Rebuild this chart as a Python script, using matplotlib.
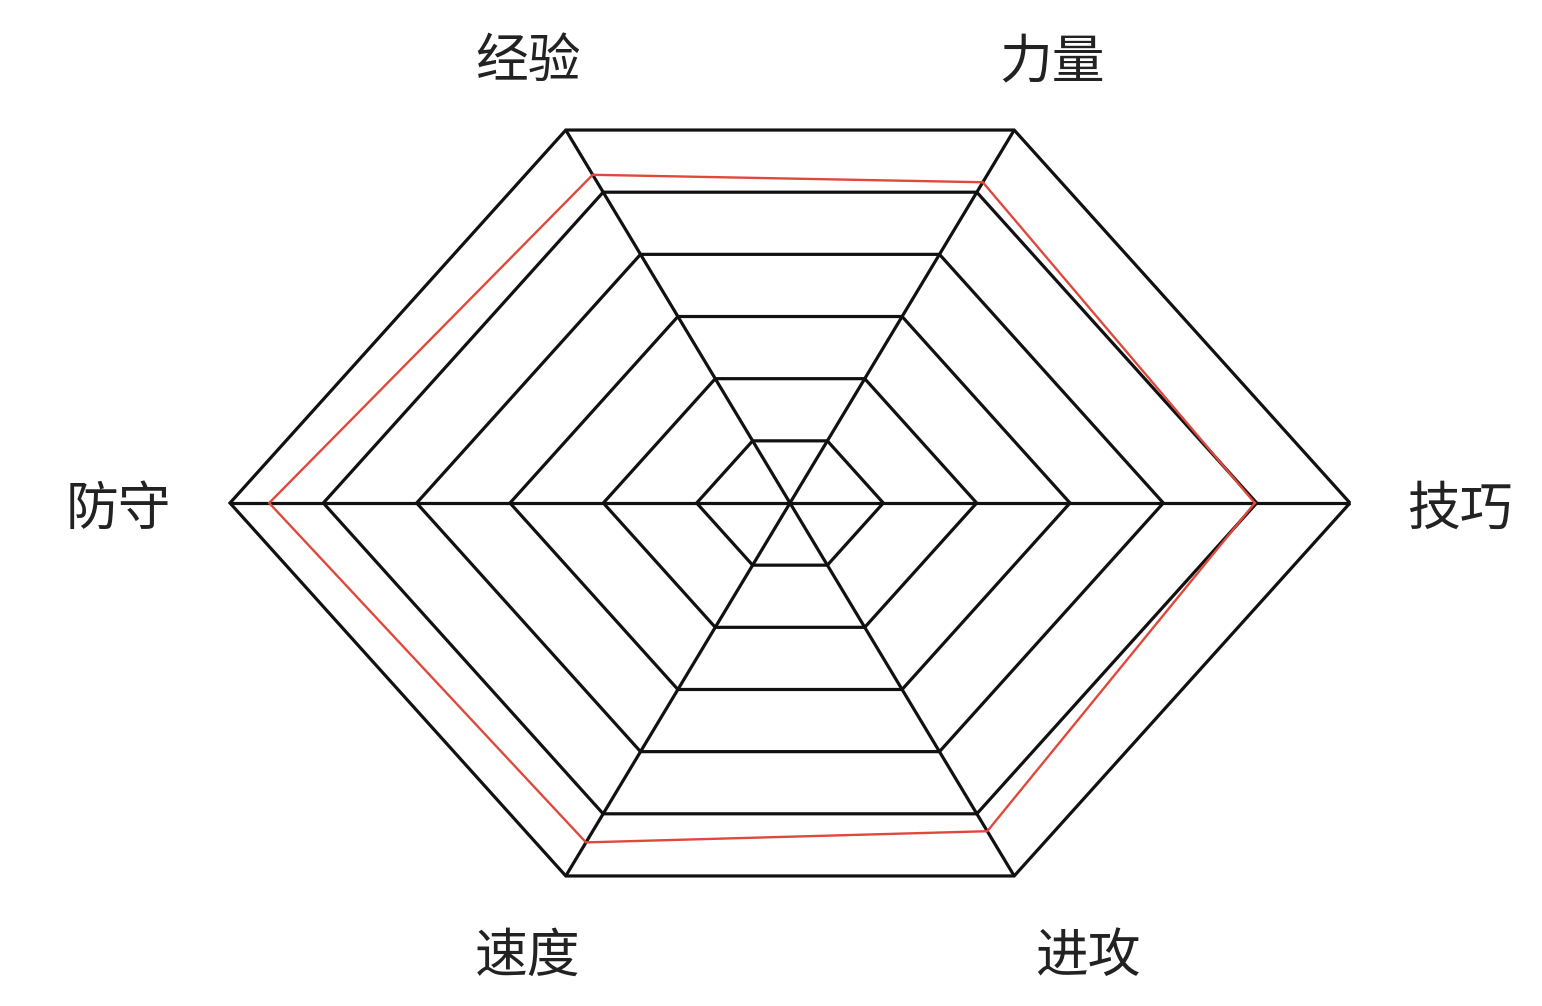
import numpy as np
import matplotlib
matplotlib.use("Agg")
import matplotlib.pyplot as plt
from matplotlib import transforms

plt.rcParams['font.family'] = ['Noto Sans CJK SC', 'DejaVu Sans']

# Data
categories = ['技巧', '力量', '经验', '防守', '速度', '进攻']
values = [83, 86, 88, 93, 91, 88]
max_value = 100
n_levels = 6

# Direction angles of the (stretched) hexagon axes, counter-clockwise from the right
angles_deg = [0, 66.4, 113.6, 180, 246.4, 293.6]
# small horizontal nudges of the labels (pixels)
label_dx = [-2, -7, 7, 0, 7, 29]

W, H = 1542, 1006
fig = plt.figure(figsize=(W / 100, H / 100), dpi=100)
ax = fig.add_axes([0, 0, 1, 1])

cx, cy = 790, 503
sx = 560.0   # px per unit in x
sy = 407.0   # px per unit in y
ax.set_xlim(-cx / sx, (W - cx) / sx)
ax.set_ylim(-(H - cy) / sy, cy / sy)
ax.axis('off')

ang = np.deg2rad(np.array(angles_deg))
ux, uy = np.cos(ang), np.sin(ang)

line_kw = dict(color='#111111', lw=2.3, solid_joinstyle='miter', solid_capstyle='butt')

# Rings
for k in range(1, n_levels + 1):
    r = k / n_levels
    xs = np.append(ux * r, ux[0] * r)
    ys = np.append(uy * r, uy[0] * r)
    ax.plot(xs, ys, **line_kw, zorder=2)

# Spokes
for i in range(len(categories)):
    ax.plot([0, ux[i]], [0, uy[i]], **line_kw, zorder=2)

# Data polygon
v = np.array(values) / max_value
xs = np.append(ux * v, ux[0] * v[0])
ys = np.append(uy * v, uy[0] * v[0])
ax.plot(xs, ys, color='#e0483c', lw=1.7, zorder=3, solid_joinstyle='miter')

# Labels
label_r = 1.2
for i, cat in enumerate(categories):
    tr = transforms.offset_copy(ax.transData, fig=fig, x=label_dx[i], y=-6, units='dots')
    ax.text(ux[i] * label_r, uy[i] * label_r, cat, ha='center', va='center',
            fontsize=38, color='#222222', transform=tr)

fig.savefig('out.png', dpi=100, facecolor='white')
